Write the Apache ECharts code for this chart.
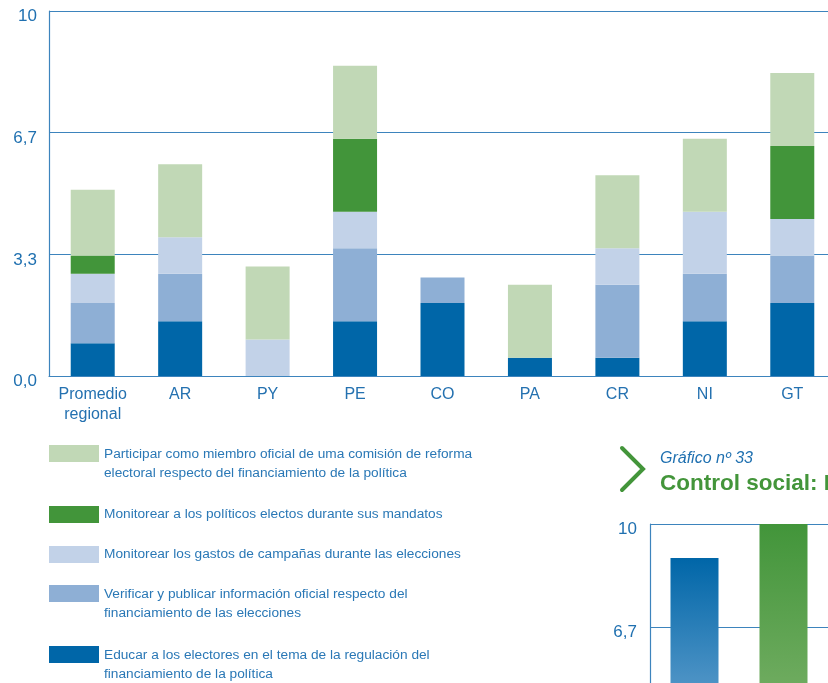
<!DOCTYPE html>
<html>
<head>
<meta charset="utf-8">
<script src="https://cdn.jsdelivr.net/npm/echarts@6/dist/echarts.min.js"></script>
<style>
  html, body { margin: 0; padding: 0; background: #fff; }
  #chart { width: 828px; height: 683px; }
</style>
</head>
<body>
<div id="chart"></div>
<script>
// datos del gráfico principal (barras apiladas)
const categories = ['Promedio\nregional', 'AR', 'PY', 'PE', 'CO', 'PA', 'CR', 'NI', 'GT'];
const educar     = [0.9, 1.5, 0,   1.5, 2.0, 0.5, 0.5, 1.5, 2.0];
const verificar  = [1.1, 1.3, 0,   2.0, 0.7, 0,   2.0, 1.3, 1.3];
const gastos     = [0.8, 1.0, 1.0, 1.0, 0,   0,   1.0, 1.7, 1.0];
const mandatos   = [0.5, 0,   0,   2.0, 0,   0,   0,   0,   2.0];
const comision   = [1.8, 2.0, 2.0, 2.0, 0,   2.0, 2.0, 2.0, 2.0];
const yTickLabels = ['0,0', '3,3', '6,7', '10'];

// nombres de la leyenda
const names = [
  'Participar como miembro oficial de uma comisión de reforma\nelectoral respecto del financiamiento de la política',
  'Monitorear a los políticos electos durante sus mandatos',
  'Monitorear los gastos de campañas durante las elecciones',
  'Verificar y publicar información oficial respecto del\nfinanciamiento de las elecciones',
  'Educar a los electores en el tema de la regulación del\nfinanciamiento de la política'
];
const colors = ['#c1d8b6', '#42953a', '#c2d2e8', '#8eafd5', '#0066a8'];

// gráfico nº 33 (solo se ve la parte de arriba)
const categories2 = ['', ''];
const values2 = [8.9, 10];

const blueText = '#1f70b0';
const lineColor = '#3d84bd';

const chart = echarts.init(document.getElementById('chart'));

function tickLabel(v) {
  return yTickLabels[Math.round(v * 3 / 10)];
}

// una leyenda por item para poder alinear los textos de dos líneas
const legendTops = [444.5, 505, 545, 584.5, 645.5];
const legends = names.map(function (n, i) {
  const twoLines = n.indexOf('\n') >= 0;
  return {
    orient: 'vertical',
    left: 49,
    top: legendTops[i],
    padding: 0,
    itemGap: 0,
    itemWidth: 50,
    itemHeight: twoLines ? 37 : 17,
    selectedMode: false,
    data: [{
      name: n,
      icon: twoLines ? 'path://M0,0H50V17H0Z M0,37L0,37' : 'rect'
    }],
    textStyle: { color: '#2a78b6', fontSize: 13.7, lineHeight: 19, fontFamily: 'Liberation Sans' }
  };
});

const stackData = [educar, verificar, gastos, mandatos, comision];
const series = stackData.map(function (d, k) {
  const idx = 4 - k;
  return {
    name: names[idx],
    type: 'bar',
    stack: 'total',
    barWidth: 44,
    itemStyle: { color: colors[idx] },
    data: d
  };
});

series.push({
  name: 'g33',
  type: 'bar',
  xAxisIndex: 1,
  yAxisIndex: 1,
  barWidth: 48,
  data: values2.map(function (v, i) {
    const c = i === 0 ? ['#0066a8', '#a8c8e8'] : ['#42953a', '#96bf80'];
    return {
      value: v,
      itemStyle: {
        color: new echarts.graphic.LinearGradient(0, 0, 0, 1, [
          { offset: 0, color: c[0] }, { offset: 1, color: c[1] }
        ])
      }
    };
  })
});

const yAxisBase = {
  type: 'value',
  min: 0,
  max: 10,
  interval: 10 / 3,
  axisLine: { show: true, lineStyle: { color: lineColor, width: 1.2 } },
  axisTick: { show: false },
  splitLine: { show: true, lineStyle: { color: lineColor, width: 1.2 } },
  axisLabel: {
    formatter: tickLabel,
    color: blueText,
    fontSize: 17,
    fontFamily: 'Liberation Sans',
    verticalAlign: 'top',
    lineHeight: 11,
    margin: 12
  }
};

const option = {
  animation: false,
  textStyle: { fontFamily: 'Liberation Sans' },
  title: {
    text: 'Gráfico nº 33',
    subtext: 'Control social: L',
    left: 660,
    top: 451,
    padding: 0,
    itemGap: 5,
    textStyle: { color: blueText, fontSize: 16, fontStyle: 'italic', fontWeight: 'normal' },
    subtextStyle: { color: '#43953a', fontSize: 22.5, fontWeight: 'bold' }
  },
  legend: legends,
  grid: [
    { left: 49, width: 787, top: 11, height: 365, outerBoundsMode: 'none' },
    { left: 650, width: 178, top: 524, height: 309, outerBoundsMode: 'none' }
  ],
  xAxis: [{
    type: 'category',
    data: categories,
    axisLine: { show: true, lineStyle: { color: lineColor, width: 1.2 } },
    axisTick: { show: false },
    axisLabel: { interval: 0, color: '#2471b0', fontSize: 16, lineHeight: 20, margin: 9 }
  }, {
    type: 'category',
    gridIndex: 1,
    data: categories2,
    axisLine: { show: false },
    axisTick: { show: false },
    axisLabel: { show: false }
  }],
  yAxis: [
    Object.assign({}, yAxisBase),
    Object.assign({}, yAxisBase, {
      gridIndex: 1,
      axisLabel: Object.assign({}, yAxisBase.axisLabel, { margin: 13 })
    })
  ],
  graphic: [{
    type: 'polyline',
    shape: { points: [[622, 448], [643, 469], [622, 490]] },
    style: { stroke: '#43953a', lineWidth: 4, fill: null, lineCap: 'round', lineJoin: 'miter' }
  }],
  series: series
};

chart.setOption(option);
</script>
</body>
</html>
